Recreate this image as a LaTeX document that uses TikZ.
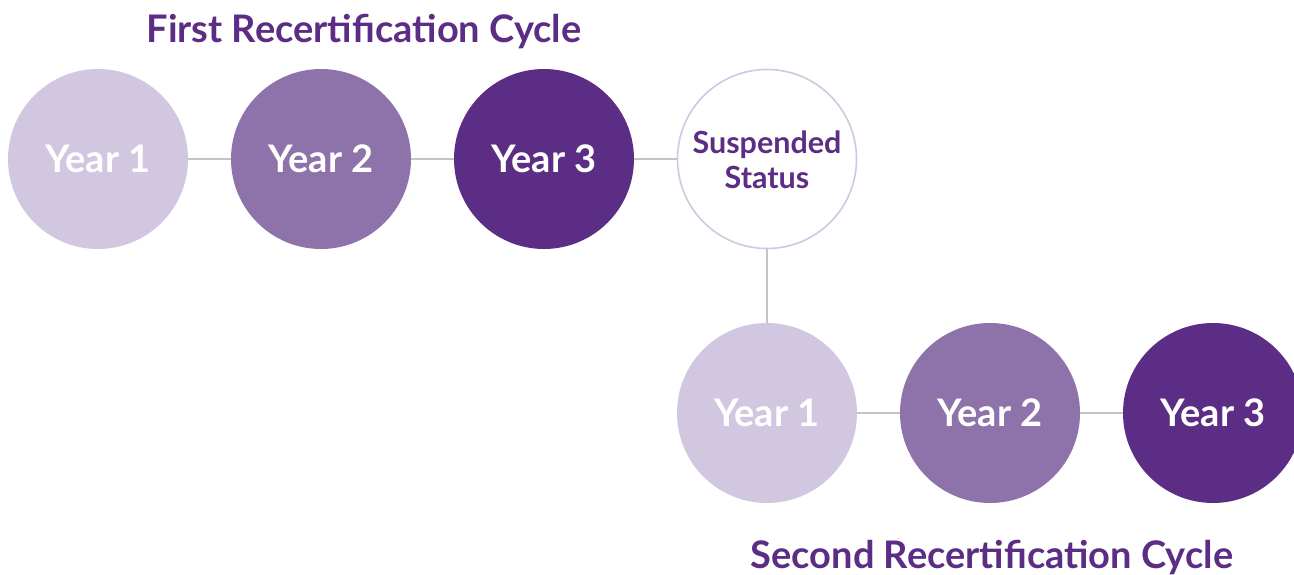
\documentclass[tikz,border=0pt]{standalone}
\usepackage{fontspec}
\setmainfont{Lato}
\definecolor{lav}{HTML}{D1C7E0}
\definecolor{midp}{HTML}{8E72AA}
\definecolor{darkp}{HTML}{5C2D84}
\definecolor{conn}{HTML}{C4C4C4}
\begin{document}
\begin{tikzpicture}[x=1pt,y=-1pt,
  yr/.style={circle,minimum size=180pt,inner sep=0pt,text=white,font=\fontsize{38}{40}\selectfont\bfseries},
  y1/.style={yr,fill=lav},
  y2/.style={yr,fill=midp},
  y3/.style={yr,fill=darkp},
  susp/.style={circle,minimum size=179pt,inner sep=0pt,draw=lav,line width=1.6pt,fill=white,text=darkp,font=\fontsize{30.5}{35}\selectfont\bfseries},
  ttl/.style={text=darkp,font=\fontsize{38}{40}\selectfont\bfseries,inner sep=0pt},
  cn/.style={draw=conn,line width=2.6pt}]
\useasboundingbox (0,0) rectangle (1294,575);
\clip (0,0) rectangle (1294,575);
\node[ttl,anchor=base] (t1) at (364,43) {First Recertification Cycle};
\node[ttl,anchor=base] (t2) at (992,568) {Second Recertification Cycle};
\node[y1] (a1) at (98,159) {Year 1};
\node[y2] (a2) at (321,159) {Year 2};
\node[y3] (a3) at (544,159) {Year 3};
\node[susp] (s) at (767,159) {\raisebox{-5pt}[\height][\depth]{\begin{tabular}{@{}c@{}}Suspended\\Status\end{tabular}}};
\node[y1] (b1) at (767,413) {Year 1};
\node[y2] (b2) at (990,413) {Year 2};
\node[y3] (b3) at (1213,413) {Year 3};
\draw[cn] (a1) -- (a2);
\draw[cn] (a2) -- (a3);
\draw[cn] (a3) -- (s);
\draw[cn] (s) -- (b1);
\draw[cn] (b1) -- (b2);
\draw[cn] (b2) -- (b3);
\end{tikzpicture}
\end{document}
